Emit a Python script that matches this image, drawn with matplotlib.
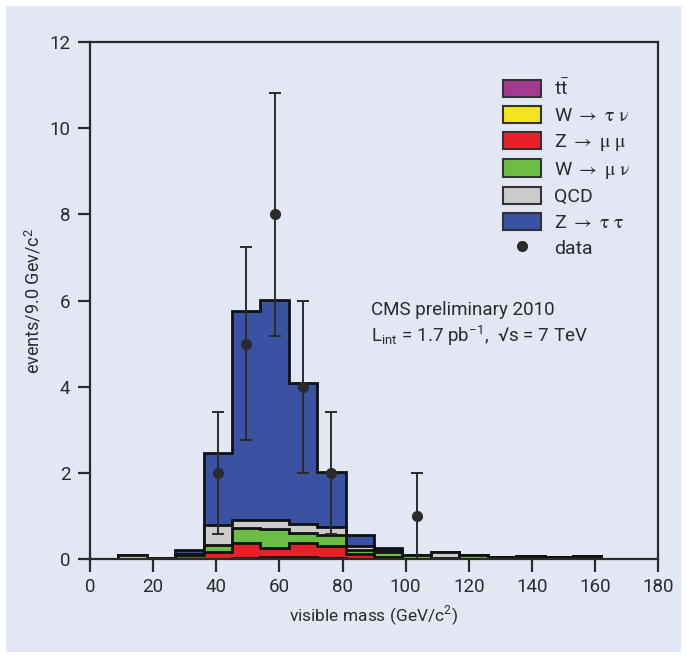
import numpy as np
import matplotlib
matplotlib.use("Agg")
import matplotlib.pyplot as plt
from matplotlib.patches import Patch, Rectangle
from matplotlib.lines import Line2D

# --- histogram contents (events per 9 GeV/c^2 bin) ---
bin_edges = [0, 9, 18, 27, 36, 45, 54, 63, 72, 81, 90, 99, 108, 117, 126, 135,
             144, 153, 162, 171, 180]

ttbar  = [0, 0, 0, 0, 0, 0, 0.03, 0.03, 0.01, 0.01, 0.01, 0.01, 0, 0, 0, 0, 0, 0, 0, 0]
w_taunu = [0, 0, 0, 0, 0, 0.02, 0.02, 0.02, 0.01, 0, 0, 0, 0, 0, 0, 0, 0, 0, 0, 0]
z_mumu = [0, 0, 0, 0.09, 0.16, 0.34, 0.21, 0.31, 0.28, 0.10, 0.04, 0, 0, 0, 0, 0, 0, 0, 0, 0]
w_munu = [0, 0, 0, 0.02, 0.17, 0.35, 0.44, 0.24, 0.25, 0.10, 0.12, 0.08, 0.03, 0.10, 0,
          0.03, 0, 0.02, 0, 0]
qcd    = [0, 0.09, 0.03, 0, 0.46, 0.20, 0.20, 0.22, 0.19, 0.10, 0.02, 0, 0.13, 0, 0.04,
          0.04, 0.04, 0.06, 0, 0]
z_tautau = [0, 0, 0, 0.10, 1.66, 4.84, 5.12, 3.26, 1.28, 0.24, 0.06, 0, 0, 0, 0,
            0.01, 0, 0, 0, 0]

data_mass = [40.5, 49.5, 58.5, 67.5, 76.5, 103.5]
data_counts = [2, 5, 8, 4, 2, 1]

labels = [r"$\mathregular{t\bar{t}}$",
          r"W $\rightarrow$ $\mathrm{\tau}$ $\mathrm{\nu}$",
          r"Z $\rightarrow$ $\mathrm{\mu}$ $\mathrm{\mu}$",
          r"W $\rightarrow$ $\mathrm{\mu}$ $\mathrm{\nu}$",
          "QCD",
          r"Z $\rightarrow$ $\mathrm{\tau}$ $\mathrm{\tau}$"]
colors = ["#a5398f", "#f2e51d", "#e8202a", "#6cbd45", "#cbcbc9", "#3952a2"]

x_ticks = [0, 20, 40, 60, 80, 100, 120, 140, 160, 180]
y_ticks = [0, 2, 4, 6, 8, 10, 12]

plt.rcParams['font.family'] = ['Roboto', 'DejaVu Sans']
plt.rcParams['mathtext.fontset'] = 'stix'

bg = "#e3e7f4"
ink = "#2b2b2b"
W, H = 687, 658

fig = plt.figure(figsize=(6.87, 6.58), dpi=100)
fig.patch.set_facecolor("white")
# lavender panel with a thin white margin
fig.patches.append(Rectangle((6 / W, 6 / H), 1 - 12 / W, 1 - 12 / H,
                             transform=fig.transFigure, facecolor=bg,
                             edgecolor="none", zorder=-10))
ax = fig.add_axes([0.131, 0.1505, 0.827, 0.7855])
ax.set_facecolor(bg)

# stacked histogram: draw cumulative sums from the top layer down
components = [ttbar, w_taunu, z_mumu, w_munu, qcd, z_tautau]
cum = np.cumsum(np.array(components, dtype=float), axis=0)
edges = np.array(bin_edges, dtype=float)
for i in range(len(components) - 1, -1, -1):
    ax.stairs(cum[i], edges, baseline=0, fill=True, facecolor=colors[i],
              edgecolor="#111111", linewidth=2.0, zorder=2 + (len(components) - i) * 0.01)

# data points with sqrt(N) errors
counts = np.array(data_counts, dtype=float)
ax.errorbar(data_mass, counts, yerr=np.sqrt(counts), fmt="o", color=ink,
            ecolor=ink, elinewidth=1.4, capsize=4.5, capthick=1.4,
            markersize=7, zorder=5)

ax.set_xlim(0, 180)
ax.set_ylim(0, 12)
ax.set_xticks(x_ticks)
ax.set_yticks(y_ticks)
ax.tick_params(direction="out", length=9, width=1.6, colors=ink, labelsize=13.5,
               pad=5)
for s in ax.spines.values():
    s.set_color(ink)
    s.set_linewidth(1.6)

ax.set_xlabel(r"visible mass (GeV/c$^{\mathregular{2}}$)", fontsize=12.5, color=ink,
              labelpad=6)
ax.set_ylabel(r"events/9.0 Gev/c$^{\mathregular{2}}$", fontsize=13, color=ink,
              labelpad=4)

ax.text(0.495, 0.472, "CMS preliminary 2010", transform=ax.transAxes,
        fontsize=13.5, color=ink, ha="left", va="baseline")
ax.text(0.495, 0.420,
        r"L$_{\mathregular{int}}$ = 1.7 pb$^{\mathregular{-1}}$,  √s = 7 TeV",
        transform=ax.transAxes, fontsize=13.5, color=ink, ha="left", va="baseline")

handles = [Patch(facecolor=c, edgecolor="#333333", linewidth=1.5) for c in colors]
handles.append(Line2D([], [], marker="o", linestyle="none", color=ink, markersize=7))
leg = ax.legend(handles, labels + ["data"], loc="upper left",
                bbox_to_anchor=(0.714, 0.944), frameon=False, fontsize=14,
                handlelength=1.95, handleheight=1.0, labelspacing=0.33,
                handletextpad=0.65, borderaxespad=0)
for t in leg.get_texts():
    t.set_color(ink)

fig.savefig("out.png", dpi=100, facecolor=fig.get_facecolor())
